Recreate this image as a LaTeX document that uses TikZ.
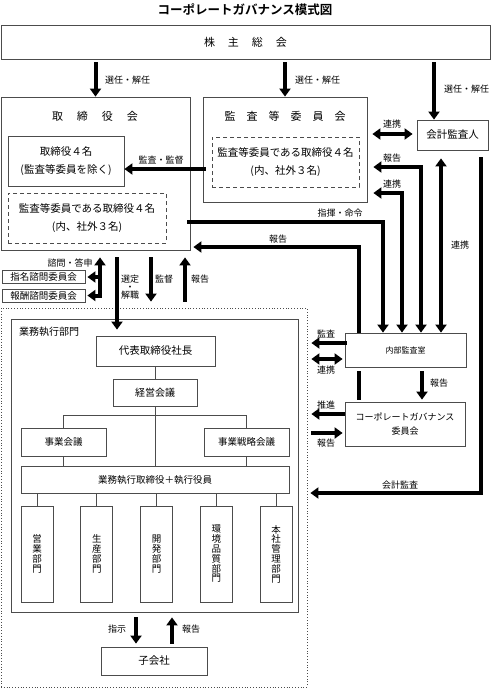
\documentclass[tikz,border=0pt]{standalone}
\usepackage{fontspec}
\setmainfont{Noto Sans CJK JP}[BoldFont={Noto Sans CJK JP Bold}]
\usepackage{tikz}
\usetikzlibrary{arrows.meta,positioning,calc}
\newcommand\tightlines{\lineskiplimit=-20pt\relax}

\begin{document}
\begin{tikzpicture}[
    x=1pt, y=-1pt,
    box/.style={rectangle, draw=black!70, line width=0.8pt, inner sep=0pt, align=center, font=\fontsize{10}{12}\selectfont},
    dbox/.style={box, dash pattern=on 4pt off 3pt},
    dept/.style={box, minimum width=32pt, minimum height=96pt, font=\fontsize{9.5}{9.8}\selectfont\tightlines},
    lbl/.style={inner sep=0pt, align=center, font=\fontsize{9}{10}\selectfont},
    arrow/.style={-{Triangle[width=11pt,length=8pt]}, line width=4pt},
    darrow/.style={{Triangle[width=11pt,length=8pt]}-{Triangle[width=11pt,length=8pt]}, line width=4pt},
    bar/.style={line width=4pt},
    tree/.style={draw=black!70, line width=0.8pt}
]
    \useasboundingbox (0,0) rectangle (491,688);

    \node[font=\bfseries\fontsize{12.5}{14}\selectfont] (title) at (245,10) {コーポレートガバナンス模式図};
    \node[box, minimum width=489pt, minimum height=34pt, font=\fontsize{11}{13}\selectfont] (gm) at (245.5,42) {株\hspace{13pt}主\hspace{13pt}総\hspace{13pt}会};

    \node[box, minimum width=189pt, minimum height=153pt] (board) at (95.5,173.5) {};
    \node[font=\fontsize{11}{13}\selectfont] (boardt) at (95,116) {取\hspace{14pt}締\hspace{14pt}役\hspace{14pt}会};
    \node[box, minimum width=116pt, minimum height=50pt, font=\fontsize{10.5}{18}\selectfont] (dirs) at (66,161) {取締役４名\\(監査等委員を除く)};
    \node[dbox, minimum width=158pt, minimum height=50pt, font=\fontsize{10.5}{18}\selectfont] (bdash) at (87,218) {監査等委員である取締役４名\\(内、社外３名)};

    \node[box, minimum width=164pt, minimum height=105pt] (acm) at (285,149.5) {};
    \node[font=\fontsize{11}{13}\selectfont] (acmt) at (285,116) {監\hspace{11pt}査\hspace{11pt}等\hspace{11pt}委\hspace{11pt}員\hspace{11pt}会};
    \node[dbox, minimum width=147pt, minimum height=50pt, font=\fontsize{10.5}{18}\selectfont] (adash) at (285.5,162) {監査等委員である取締役４名\\(内、社外３名)};

    \node[box, minimum width=71pt, minimum height=30pt, font=\fontsize{10.5}{12}\selectfont] (auditor) at (452.5,135) {会計監査人};

    \node[box, minimum width=83pt, minimum height=13pt, font=\fontsize{9.5}{10}\selectfont] (nom) at (43.5,277) {指名諮問委員会};
    \node[box, minimum width=83pt, minimum height=13pt, font=\fontsize{9.5}{10}\selectfont] (rem) at (43.5,295.5) {報酬諮問委員会};

    \node[draw=black!70, dotted, line width=0.8pt, minimum width=306pt, minimum height=379pt, inner sep=0pt] (ops) at (154,497.5) {};
    \node[box, minimum width=287pt, minimum height=293pt] (exec) at (154.5,465.5) {};
    \node[lbl, anchor=west, font=\fontsize{10}{12}\selectfont] (execl) at (19,332) {業務執行部門};

    \node[box, minimum width=119pt, minimum height=30pt, font=\fontsize{10.5}{12}\selectfont] (ceo) at (155.5,351) {代表取締役社長};
    \node[box, minimum width=84pt, minimum height=27pt] (mgmt) at (155,392.5) {経営会議};
    \node[box, minimum width=85pt, minimum height=28pt, font=\fontsize{9.5}{11}\selectfont] (biz) at (63.5,442) {事業会議};
    \node[box, minimum width=85pt, minimum height=28pt, font=\fontsize{9.5}{11}\selectfont] (strat) at (246.5,442) {事業戦略会議};
    \node[box, minimum width=268pt, minimum height=27pt, font=\fontsize{9.5}{11}\selectfont] (officers) at (155,479.5) {業務執行取締役＋執行役員};

    \node[dept] (d1) at (37,554) {営\\業\\部\\門};
    \node[dept, right=27pt of d1] (d2) {生\\産\\部\\門};
    \node[dept, right=27pt of d2] (d3) {開\\発\\部\\門};
    \node[dept, right=27pt of d3] (d4) {環\\境\\品\\質\\部\\門};
    \node[dept, right=27pt of d4] (d5) {本\\社\\管\\理\\部\\門};

    \node[box, minimum width=106pt, minimum height=28pt, font=\fontsize{10.5}{12}\selectfont] (sub) at (154,661) {子会社};

    \node[box, minimum width=121pt, minimum height=34pt, font=\fontsize{8}{10}\selectfont] (iad) at (405.5,350) {内部監査室};
    \node[box, minimum width=120pt, minimum height=44pt, font=\fontsize{9}{14}\selectfont] (cgc) at (405,424) {コーポレートガバナンス\\委員会};

    \coordinate (a3) at ([xshift=-18.5pt]auditor.north);
    \coordinate (qa) at ([xshift=4.5pt]board.south);

    \draw[arrow, shorten <=3pt] (gm.south -| board.north) -- (board.north);
    \draw[arrow, shorten <=3pt] (gm.south -| acm.north) -- (acm.north);
    \draw[arrow, shorten <=3pt] (gm.south -| a3) -- (a3);
    \node[lbl, anchor=west] (l1) at (105,80) {選任・解任};
    \node[lbl, anchor=west] (l2) at (295,80) {選任・解任};
    \node[lbl, anchor=west] (l3) at (444,89) {選任・解任};

    \draw[arrow, shorten <=-3pt] ([yshift=-19.5pt]acm.west) -- ([yshift=-8pt]dirs.east);
    \node[lbl] (l4) at (161,160) {監査・監督};
    \draw[darrow, shorten <=5pt, shorten >=4pt] ([yshift=15.5pt]acm.east) -- ([yshift=1pt]auditor.west);
    \node[lbl] (l5) at (392,124) {連携};

    \draw[darrow, shorten >=6pt] ([xshift=15.5pt]iad.north) |- ([yshift=-17.5pt]acm.east);
    \node[lbl] (l6) at (392,158) {報告};
    \draw[darrow, shorten >=6pt] ([xshift=-3.5pt]iad.north) |- ([yshift=-43.5pt]acm.east);
    \node[lbl] (l7) at (392,184) {連携};
    \draw[arrow, shorten <=-3pt] ([yshift=-48.5pt]board.east) -| ([xshift=-22.5pt]iad.north);
    \node[lbl] (l8) at (340,213) {指揮・命令};
    \draw[arrow, shorten >=3pt] ([xshift=-46.5pt]iad.north) |- ([yshift=-73.5pt]board.east);
    \node[lbl] (l9) at (278,239) {報告};

    \draw[darrow, shorten <=8pt] ([xshift=-11.5pt]auditor.south) -- ([xshift=35.5pt]iad.north);
    \node[lbl] (l10) at (460,245) {連携};
    \draw[arrow, shorten <=7pt, shorten >=3pt] ([xshift=28.5pt]auditor.south) |- ([yshift=4.5pt]ops.east);
    \node[lbl] (l11) at (400,485) {会計監査};

    \draw[arrow, shorten <=-2pt, shorten >=4pt] ([yshift=7pt]iad.west) -- ([yshift=154.5pt]ops.east);
    \node[lbl] (l12) at (326,334) {監査};
    \draw[darrow, shorten <=2pt, shorten >=4pt] ([yshift=-9pt]iad.west) -- ([yshift=138.5pt]ops.east);
    \node[lbl] (l13) at (326,370) {連携};
    \draw[bar, shorten <=4pt, shorten >=2pt] ([xshift=-46.5pt]iad.south) -- ([xshift=-46pt]cgc.north);
    \draw[arrow, shorten <=4pt, shorten >=2pt] ([xshift=16.5pt]iad.south) -- ([xshift=17pt]cgc.north);
    \node[lbl] (l14) at (439,383) {報告};
    \draw[arrow, shorten >=4pt] ([yshift=10pt]cgc.west) -- ([yshift=83.5pt]ops.east);
    \node[lbl] (l15) at (326,405) {推進};
    \draw[arrow, shorten <=4pt, shorten >=2pt] ([yshift=64.5pt]ops.east) -- ([yshift=-9pt]cgc.west);
    \node[lbl] (l16) at (326,443) {報告};

    \draw[darrow, shorten <=7pt, shorten >=2pt] (qa) |- (rem.east);
    \draw[arrow, shorten >=2pt] (qa |- nom.east) -- (nom.east);
    \node[lbl] (l17) at (70,263) {諮問・答申};

    \draw[arrow, shorten <=7pt, shorten >=6pt] ([xshift=21.5pt]board.south) -- ([xshift=-38.5pt]ceo.north);
    \node[lbl, font=\fontsize{9}{8}\selectfont\tightlines] (l18) at (130,287) {選定\\・\\解職};
    \draw[arrow, shorten <=7pt, shorten >=6pt] ([xshift=55.5pt]board.south) -- ([xshift=-3pt]ops.north);
    \node[lbl] (l19) at (164,279) {監督};
    \draw[arrow, shorten <=6pt, shorten >=7pt] ([xshift=31pt]ops.north) -- ([xshift=89.5pt]board.south);
    \node[lbl] (l20) at (200,279) {報告};

    \draw[tree] (ceo.south) -- (ceo.south |- mgmt.north);
    \draw[tree] (mgmt.south) -- (mgmt.south |- officers.north);
    \draw[tree] (biz.north) -- ++(0,-12) -| (strat.north);
    \draw[tree] (biz.south) -- (biz.south |- officers.north);
    \draw[tree] (strat.south) -- (strat.south |- officers.north);
    \foreach \d in {d1,d2,d3,d4,d5}
        \draw[tree] (\d.north) -- (\d.north |- officers.south);

    \draw[arrow, shorten <=5pt, shorten >=3pt] ([xshift=-18.5pt]exec.south) -- ([xshift=-18pt]sub.north);
    \node[lbl] (l21) at (117,629) {指示};
    \draw[arrow, shorten <=3pt, shorten >=5pt] ([xshift=18pt]sub.north) -- ([xshift=17.5pt]exec.south);
    \node[lbl] (l22) at (191,629) {報告};
\end{tikzpicture}
\end{document}
